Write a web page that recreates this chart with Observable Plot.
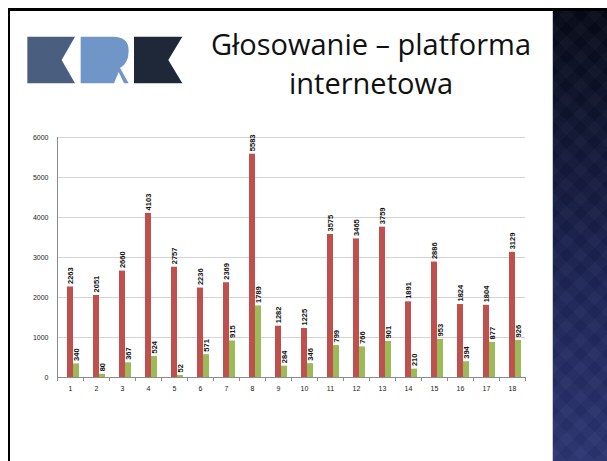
<!DOCTYPE html>
<html>
<head>
<meta charset="utf-8">
<script src="https://cdn.jsdelivr.net/npm/d3@7"></script>
<script src="https://cdn.jsdelivr.net/npm/@observablehq/plot@0.6"></script>
<style>
  html, body { margin: 0; padding: 0; background: #fff; }
  #slide { position: relative; width: 607px; height: 461px; overflow: hidden; background: #fff; }
  #topline { position: absolute; left: 8px; top: 8px; width: 599px; height: 3px; background: #000; }
  #leftline { position: absolute; left: 8px; top: 8px; width: 2px; height: 453px; background: #000; }
  #strip { position: absolute; left: 552px; top: 11px; width: 55px; height: 450px;
    background:
      repeating-linear-gradient(45deg, rgba(255,255,255,0.018) 0 10px, rgba(0,0,0,0.025) 10px 20px),
      repeating-linear-gradient(-45deg, rgba(255,255,255,0.018) 0 10px, rgba(0,0,0,0.025) 10px 20px),
      linear-gradient(180deg, #060917 0%, #111736 30%, #1f275a 65%, #2b3470 100%);
    border-left: 1px solid #c8ccd8; }
  #logo { position: absolute; left: 20px; top: 30px; }
  #title { position: absolute; left: 186px; width: 370px; top: 24px; text-align: center;
    font-family: "Open Sans", sans-serif; font-size: 29px; line-height: 39px; color: #111; }
  #chart { position: absolute; left: 10px; top: 120px; }
</style>
</head>
<body>
<div id="slide">
  <div id="topline"></div>
  <div id="leftline"></div>
  <div id="strip"></div>
  <svg id="logo" width="170" height="80" viewBox="0 0 510 240">
    <path d="M22,20 L165,20 L125,90 L165,160 L22,160 Z" fill="#4a5f80"/>
    <path d="M182,20 L280,20 Q326,20 326,62 Q326,100 300,114 L326,160 L312,160 L296,126 L282,160 L182,160 Z" fill="#7096c8"/>
    <path d="M342,20 L487,20 L445,90 L487,160 L342,160 Z" fill="#1f2838"/>
  </svg>
  <div id="title">Głosowanie – platforma<br>internetowa</div>
  <div id="chart"></div>
</div>
<script>
const categories = ["1","2","3","4","5","6","7","8","9","10","11","12","13","14","15","16","17","18"];
const seriesNames = ["Seria 1", "Seria 2", "Seria 3"];
const redValues = [2263, 2051, 2660, 4103, 2757, 2236, 2369, 5583, 1282, 1225, 3575, 3465, 3759, 1891, 2886, 1824, 1804, 3129];
const greenValues = [340, 80, 367, 524, 52, 571, 915, 1789, 284, 346, 799, 766, 901, 210, 953, 394, 877, 926];
const yTicks = [0, 1000, 2000, 3000, 4000, 5000, 6000];

const data = categories.flatMap((c, i) => [
  {cat: c, series: seriesNames[1], value: redValues[i]},
  {cat: c, series: seriesNames[2], value: greenValues[i]}
]);

const chart = Plot.plot({
  width: 530,
  height: 290,
  marginLeft: 41,
  marginRight: 9,
  marginTop: 17,
  marginBottom: 33,
  style: {fontFamily: "'Liberation Sans', Arial, sans-serif", background: "transparent"},
  fx: {domain: categories, padding: 0, label: null},
  x: {domain: seriesNames, paddingInner: 0, paddingOuter: 0.55, axis: null},
  y: {domain: [0, 6000], label: null},
  color: {domain: seriesNames, range: ["#4f81bd", "#c0504d", "#9bbb59"]},
  marks: [
    Plot.gridY(yTicks, {stroke: "#d4d4d4", strokeOpacity: 1}),
    Plot.axisY(yTicks, {tickSize: 0, tickPadding: 9, fontSize: 7, fill: "#222", label: null, tickFormat: d => String(d)}),
    Plot.axisFx({anchor: "bottom", tickSize: 0, tickPadding: 9, fontSize: 7, fill: "#222", label: null}),
    Plot.barY(data, {fx: "cat", x: "series", y: "value", fill: "series", inset: 0}),
    Plot.text(data, {fx: "cat", x: "series", y: "value", text: d => String(d.value), rotate: -90, textAnchor: "start", dy: -3, fontSize: 7.5, fontWeight: "bold", fill: "#111"}),
    Plot.ruleY([0], {stroke: "#8c8c8c"}),
    Plot.frame({anchor: "left", facetAnchor: "left", stroke: "#8c8c8c"}),
    Plot.frame({anchor: "left", insetTop: 240, insetBottom: -3, stroke: "#8c8c8c"}),
    Plot.frame({anchor: "right", facetAnchor: "right", insetTop: 240, insetBottom: -3, stroke: "#8c8c8c"})
  ]
});
document.getElementById("chart").appendChild(chart);
</script>
</body>
</html>
